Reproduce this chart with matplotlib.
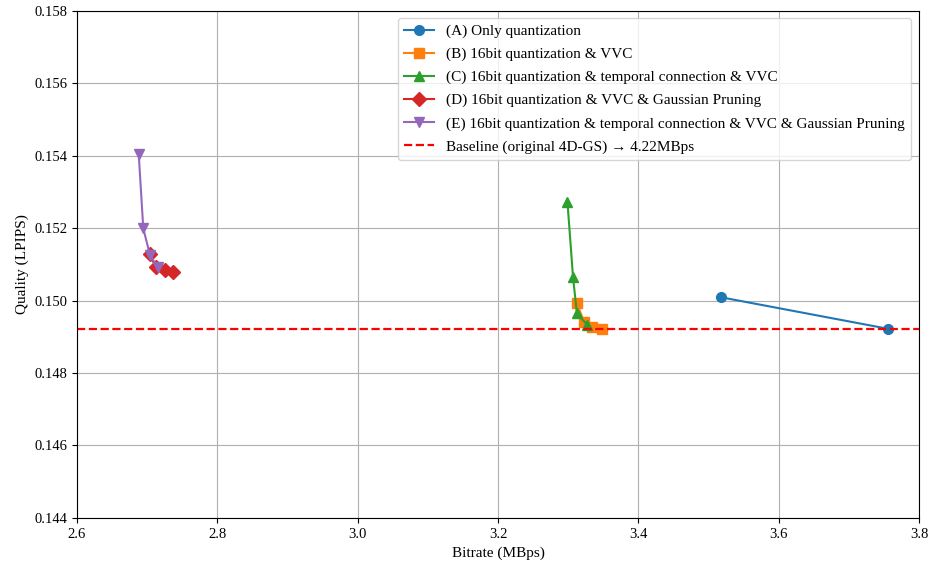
import matplotlib
matplotlib.use("Agg")
import matplotlib.pyplot as plt

plt.rcParams['font.family'] = ['Liberation Serif', 'DejaVu Serif']

# Data
a_x = [3.518, 3.756]
a_y = [0.15009, 0.14922]
b_x = [3.3125, 3.323, 3.334, 3.348]
b_y = [0.14992, 0.14940, 0.14927, 0.14922]
c_x = [3.299, 3.307, 3.3125, 3.327]
c_y = [0.15273, 0.15064, 0.14965, 0.14933]
d_x = [2.704, 2.712, 2.725, 2.737]
d_y = [0.15128, 0.15092, 0.15083, 0.15080]
e_x = [2.688, 2.6945, 2.704, 2.715]
e_y = [0.15404, 0.15199, 0.15126, 0.15092]
baseline = 0.14922

labels = [
    "(A) Only quantization",
    "(B) 16bit quantization & VVC",
    "(C) 16bit quantization & temporal connection & VVC",
    "(D) 16bit quantization & VVC & Gaussian Pruning",
    "(E) 16bit quantization & temporal connection & VVC & Gaussian Pruning",
    "Baseline (original 4D-GS) \u2192 4.22MBps",
]
xticks = [2.6, 2.8, 3.0, 3.2, 3.4, 3.6, 3.8]
yticks = [0.144, 0.146, 0.148, 0.150, 0.152, 0.154, 0.156, 0.158]

fig = plt.figure(figsize=(9.32, 5.66), dpi=100)
ax = fig.add_axes([0.0826, 0.085, 0.9034, 0.896])

ax.plot(a_x, a_y, marker='o', color='#1f77b4', lw=1.5, ms=7, label=labels[0])
ax.plot(b_x, b_y, marker='s', color='#ff7f0e', lw=1.5, ms=7, label=labels[1])
ax.plot(c_x, c_y, marker='^', color='#2ca02c', lw=1.5, ms=7, label=labels[2])
ax.plot(d_x, d_y, marker='D', color='#d62728', lw=1.5, ms=7, label=labels[3])
ax.plot(e_x, e_y, marker='v', color='#9467bd', lw=1.5, ms=7, label=labels[4])
ax.axhline(baseline, color='red', ls='--', lw=1.6, label=labels[5])

ax.set_xlim(2.6, 3.8)
ax.set_ylim(0.144, 0.158)
ax.set_xticks(xticks)
ax.set_yticks(yticks)
ax.set_xticklabels([f"{v:.1f}" for v in xticks])
ax.set_yticklabels([f"{v:.3f}" for v in yticks])
ax.tick_params(labelsize=10.5)
ax.grid(True, color='#b0b0b0', lw=0.8)
ax.set_xlabel("Bitrate (MBps)", fontsize=11)
ax.set_ylabel("Quality (LPIPS)", fontsize=11)
ax.legend(loc='upper right', fontsize=11, labelspacing=0.6)

fig.savefig("out.png", dpi=100)
